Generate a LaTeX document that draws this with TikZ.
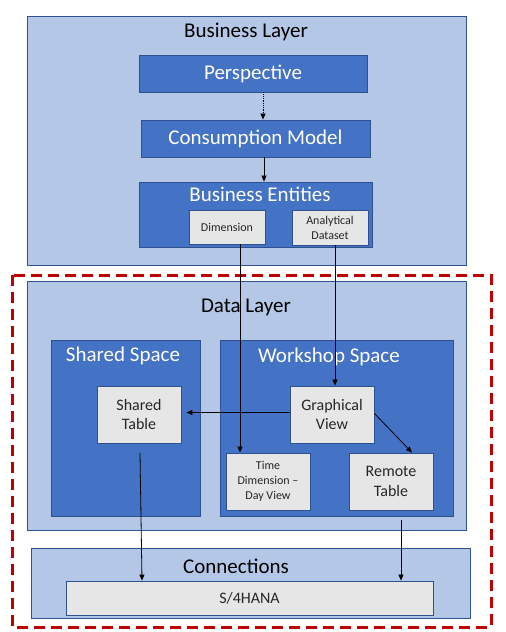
\documentclass[tikz,border=0pt]{standalone}
\usepackage{fontspec}
\setmainfont{Carlito}
\usetikzlibrary{arrows.meta,calc}
\definecolor{lightblue}{HTML}{B4C7E7}
\definecolor{darkblue}{HTML}{4472C4}
\definecolor{edgeblue}{HTML}{2F528F}
\definecolor{boxgray}{HTML}{E7E6E6}
\definecolor{redline}{HTML}{C00000}
\newcommand{\bigf}{\fontsize{21}{24}\selectfont}
\newcommand{\medf}{\fontsize{16}{19.5}\selectfont}
\newcommand{\smallf}{\fontsize{12}{15}\selectfont}
\tikzset{
  lbbox/.style={draw=edgeblue, fill=lightblue, line width=0.9pt, inner sep=0pt},
  dbbox/.style={draw=edgeblue, fill=darkblue, line width=0.9pt, inner sep=0pt, text=white, font=\bigf},
  gbox/.style={draw=edgeblue, fill=boxgray, line width=0.9pt, inner sep=0pt, align=center, text=black!85},
  ttl/.style={inner sep=0pt, font=\bigf},
  arr/.style={-{Triangle[length=6pt,width=5pt]}, line width=0.8pt, black},
}
\begin{document}
\begin{tikzpicture}[x=1pt,y=-1pt]
\useasboundingbox[fill=white] (0,0) rectangle (506,632);
% Business layer
\node[lbbox, minimum width=439pt, minimum height=249pt] (BL) at (246.5,140.5) {};
\node[ttl] (BLt) at (246,32) {Business Layer};
\node[dbbox, minimum width=228pt, minimum height=37pt] (P) at (253,73.5) {Perspective};
\node[dbbox, minimum width=229pt, minimum height=37pt] (C) at (255.5,138.5) {Consumption Model};
\node[dbbox, minimum width=233pt, minimum height=65pt] (BE) at (255.5,214.5) {};
\node[ttl, text=white] (BEt) at (260,194) {Business Entities};
\node[gbox, font=\smallf, minimum width=76pt, minimum height=34pt] (D) at (227,227) {Dimension};
\node[gbox, font=\smallf, minimum width=76pt, minimum height=35pt] (AD) at (330,227.5) {Analytical\\Dataset};
% red dashed frame
\draw[redline, line width=3pt, dash pattern=on 11pt off 6pt] (12,275) rectangle (491,627);
% Data layer
\node[lbbox, minimum width=439pt, minimum height=249pt] (DL) at (246.5,405.5) {};
\node[ttl] (DLt) at (246,307) {Data Layer};
\node[dbbox, minimum width=149pt, minimum height=176pt] (SS) at (125.5,428) {};
\node[ttl, text=white] (SSt) at (123,356) {Shared Space};
\node[dbbox, minimum width=233pt, minimum height=176pt] (WS) at (336.5,428) {};
\node[ttl, text=white] (WSt) at (329,357) {Workshop Space};
\node[gbox, font=\medf, minimum width=84pt, minimum height=57pt] (ST) at (139,414.5) {Shared\\Table};
\node[gbox, font=\medf, minimum width=84pt, minimum height=57pt] (GV) at (332,414.5) {Graphical\\View};
\node[gbox, font=\smallf, minimum width=84pt, minimum height=57pt] (TD) at (268,481.5) {Time\\Dimension --\\Day View};
\node[gbox, font=\medf, minimum width=84pt, minimum height=57pt] (RT) at (391,481.5) {Remote\\Table};
% Connections
\node[lbbox, minimum width=439pt, minimum height=70pt] (CN) at (250.5,583) {};
\node[ttl] (CNt) at (236,566) {Connections};
\node[gbox, font=\medf, minimum width=367pt, minimum height=34pt] (S4) at (249.5,598) {S/4HANA};
% connectors
\coordinate (xd) at (240,0);
\coordinate (xa) at (335,0);
\coordinate (xr) at (412,0);
\coordinate (stl) at (140,453);
\coordinate (stx) at (142,0);
\coordinate (wsl) at (401,520);
\draw[arr, densely dotted] (P.south -| 263,0) -- (C.north -| 263,0);
\draw[arr] (C.south -| 264,0) -- (BE.north -| 264,0);
\draw[arr] (D.south -| xd) -- (TD.north -| xd);
\draw[arr] (AD.south -| xa) -- (GV.north -| xa);
\draw[arr, shorten >=5pt] ($(GV.west)+(0,-2)$) -- ($(ST.east)+(0,-2)$);
\draw[arr] ($(GV.east)+(0,-1)$) -- (RT.north -| xr);
\draw[arr] (stl) -- (S4.north -| stx);
\draw[arr] (wsl) -- (S4.north -| wsl);
\end{tikzpicture}
\end{document}
